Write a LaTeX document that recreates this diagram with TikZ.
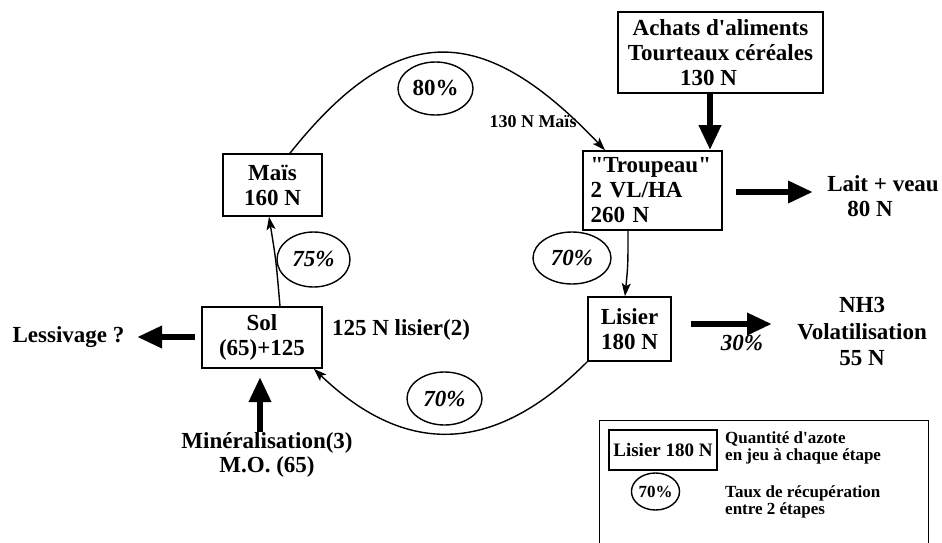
\documentclass[tikz,border=0pt]{standalone}
\usepackage{fontspec}
\setmainfont{Liberation Serif}[Ligatures=TeXOff]
\usetikzlibrary{arrows.meta,shapes.geometric}
\tikzset{
  mainfont/.style={font=\fontsize{23}{25}\selectfont\bfseries},
  smallfont/.style={font=\fontsize{18}{20}\selectfont\bfseries},
  legfont/.style={font=\fontsize{17}{17.5}\selectfont\bfseries},
  box/.style={draw, line width=1.6pt, mainfont, align=center, inner sep=0pt},
  pct/.style={draw, ellipse, line width=1.4pt, mainfont, inner sep=0pt},
  txt/.style={mainfont, align=center, inner sep=0pt},
  bigarrow/.style={line width=6.5pt, -{Triangle[length=25pt,width=21pt]}},
  thinarrow/.style={line width=1.4pt, -{Stealth[length=13pt,width=9pt,inset=3pt]}}
}
\begin{document}
\begin{tikzpicture}[x=1pt,y=-1pt]
\useasboundingbox (0,0) rectangle (942,543);
\clip (0,0) rectangle (942,543);
% boxes
\node[box, minimum width=205pt, minimum height=81pt] (achats) at (720.5,52.5) {Achats d'aliments\\Tourteaux céréales\\130 N\hspace*{24pt}};
\node[box, minimum height=79pt, text width=124pt, align=left, inner xsep=7.5pt] (troupeau) at (652.5,190.5) {"Troupeau"\\2 VL/HA\\260 N};
\node[box, minimum width=83pt, minimum height=64pt] (lisier) at (629.5,329) {Lisier\\180 N};
\node[box, minimum width=120pt, minimum height=61pt] (sol) at (262,337.5) {Sol\\(65)+125};
\node[box, minimum width=99pt, minimum height=62pt] (mais) at (272.5,185) {Maïs\\160 N};
% free texts
\node[txt] (lait) at (883,196) {Lait + veau\\80 N\hspace*{26pt}};
\node[txt, font=\fontsize{23}{26.5}\selectfont\bfseries] (nh3) at (862,331.5) {NH3\\Volatilisation\\55 N};
\node[txt] (lessivage) at (68.5,337) {Lessivage ?};
\node[txt, font=\fontsize{23}{24}\selectfont\bfseries] (mineral) at (267,455) {Minéralisation(3)\\M.O. (65)};
\node[txt] (lis125) at (401,330) {125 N lisier(2)};
\node[txt, smallfont] (maislbl) at (533,122) {130 N Maïs};
\node[txt, font=\fontsize{23}{25}\selectfont\bfseries\itshape] (p30) at (742,343) {30\%};
% percentage ellipses
\node[pct, minimum width=75pt, minimum height=53pt] (e80) at (435.5,88.5) {80\%};
\node[pct, minimum width=73pt, minimum height=55pt, font=\fontsize{23}{25}\selectfont\bfseries\itshape] (e75) at (313.5,259.5) {75\%};
\node[pct, minimum width=78pt, minimum height=52pt, font=\fontsize{23}{25}\selectfont\bfseries\itshape] (e70a) at (572,258) {70\%};
\node[pct, minimum width=75pt, minimum height=53pt, font=\fontsize{23}{25}\selectfont\bfseries\itshape] (e70b) at (444.5,398.5) {70\%};
% connector free ends
\coordinate (laitin) at (813,192);
\coordinate (nh3in) at (772,324);
\coordinate (lessin) at (137,337);
\coordinate (solmin) at (260,377);
% thick arrows
\draw[bigarrow] ([xshift=-10.5pt]achats.south) -- ([xshift=57.5pt]troupeau.north);
\draw[bigarrow] ([xshift=13pt]troupeau.east |- laitin) -- (laitin);
\draw[bigarrow] ([xshift=19pt]lisier.east |- nh3in) -- (nh3in);
\draw[bigarrow] ([xshift=-6pt]sol.west |- lessin) -- (lessin);
\draw[bigarrow] (mineral.north -| solmin) -- (solmin);
% thin arrows
\draw[thinarrow] ([xshift=18pt]sol.north) .. controls (276,260) .. ([xshift=-3.5pt]mais.south);
\draw[thinarrow] ([xshift=-24.5pt]troupeau.south) .. controls (628,265) .. ([xshift=-4.5pt]lisier.north);
\draw[thinarrow] ([xshift=17.5pt]mais.north) .. controls (399,16) and (485,24) .. ([xshift=-47.5pt]troupeau.north);
\draw[thinarrow] (lisier.south west) .. controls (495,454) and (407,458) .. ([xshift=-9pt]sol.south east);
% legend
\node[draw, line width=1.4pt, minimum width=329pt, minimum height=140pt, anchor=north west] (legend) at (599,420) {};
\node[draw, line width=1.4pt, font=\fontsize{19}{20}\selectfont\bfseries, minimum width=108pt, minimum height=40pt, inner sep=0pt] (lgbox) at (663,450) {Lisier 180 N};
\node[draw, ellipse, line width=1.4pt, font=\fontsize{17}{18}\selectfont\bfseries, minimum width=44pt, minimum height=37pt, inner sep=0pt] (lgell) at (655.5,491.5) {70\%};
\node[legfont, anchor=west, align=left, inner sep=0pt] (lgt1) at (725,448) {Quantité d'azote\\en jeu à chaque étape};
\node[legfont, anchor=west, align=left, inner sep=0pt] (lgt2) at (725,502) {Taux de récupération\\entre 2 étapes};
\end{tikzpicture}
\end{document}
